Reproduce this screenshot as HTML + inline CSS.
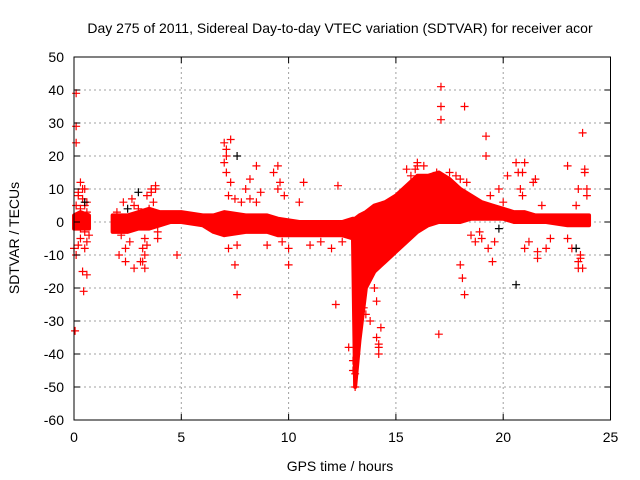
<!DOCTYPE html>
<html><head><meta charset="utf-8"><style>
body{margin:0;background:#fff}
svg{font-family:"Liberation Sans",sans-serif;display:block}
</style></head><body>
<svg id="c" width="640" height="480" viewBox="0 0 640 480">
<rect width="640" height="480" fill="#fff"/>
<text x="340" y="33" text-anchor="middle" font-size="14" fill="#000">Day 275 of 2011, Sidereal Day-to-day VTEC variation (SDTVAR) for receiver acor</text>
<text x="340" y="471" text-anchor="middle" font-size="14">GPS time / hours</text>
<text transform="translate(19,238) rotate(-90)" text-anchor="middle" font-size="14">SDTVAR / TECUs</text>
<g id="grid"></g>
<g id="band"></g>
<g id="pts"></g>
<g id="axes"></g>
</svg>
<script>
const xTicks=[0,5,10,15,20,25];
const yTicks=[50,40,30,20,10,0,-10,-20,-30,-40,-50,-60];
const bandTimes=[0.0,0.3,0.7,null,1.8,2.5,3.0,3.5,4.0,4.5,5.0,6.0,6.5,7.0,8.0,9.0,9.5,10.5,11.5,12.5,13.0,13.1,13.3,13.6,14.0,14.5,15.0,15.5,16.0,16.5,17.0,17.5,18.0,18.5,19.0,19.5,20.0,20.5,21.0,21.5,22.0,23.0,24.0];
const bandUpper=[2,3,2,null,2,2,3,4,3,3,3,2,2,3,2,2,1,0,0,0,1,1,2,3,5,6,8,11,14,14,15,13,10,8,6,5,4,3,3,2,2,2,2];
const bandLower=[-2,-2,-2,null,-3,-3,-2,-2,-1,0,0,-1,-3,-4,-3,-3,-4,-4,-4,-4,-5,-50,-36,-20,-15,-12,-9,-6,-3,-1,0,0,0,1,1,1,1,0,0,0,0,-1,-1];
const outT=[0.1,0.1,0.1,0.05,0.4,0.6,0.45,0.3,0.5,2.4,2.8,3.2,3.3,3.9,4.8,7.0,7.3,7.1,7.6,7.5,7.2,8.5,8.2,9.5,9.3,10.0,10.7,12.3,12.2,13.4,14.1,14.2,14.2,17.1,17.1,17.1,17.0,18.2,18.0,18.1,18.2,19.2,19.2,19.5,20.2,21.5,21.6,23.0,23.7,23.8,23.5,23.5,21.0,16.0,15.9,3.6,3.8,13.0,13.1,23.9,20.9,16.3,
0.1,0.2,0.3,0.4,0.5,0.6,0.2,0.3,0.4,0.5,0.6,0.7,0.1,0.2,0.3,0.5,0.6,0.0,
2.0,2.2,2.3,2.5,2.6,2.8,3.0,2.1,2.4,2.7,3.1,3.2,3.3,3.4,3.6,3.7,3.8,3.9,3.3,3.4,3.5,
7.0,7.1,7.1,7.2,7.3,7.5,7.6,7.8,8.0,8.2,8.5,8.7,9.0,9.5,9.6,9.7,9.8,10.0,10.5,11.0,11.5,12.0,12.5,
13.2,13.3,13.5,13.6,13.8,14.0,14.1,14.3,14.2,13.0,13.1,12.8,
15.5,15.7,16.0,16.2,16.5,16.7,16.9,17.5,17.8,18.0,18.3,18.5,18.7,18.9,19.0,19.3,19.4,19.6,19.8,20.0,
20.6,20.7,20.8,20.9,21.0,21.2,21.4,21.6,21.8,22.0,22.2,23.0,23.2,23.4,23.6,23.7,23.8,23.9,23.5,23.6];
const outV=[39,29,24,-33,-15,-16,-21,12,10,-12,-14,-12,-14,-5,-10,24,25,15,-22,-13,-8,17,13,17,15,-13,12,11,-25,-24,-35,-38,-40,41,35,31,-34,35,-13,-17,-22,26,20,-12,14,13,-11,17,27,16,-12,-14,18,18,16,9,10,-45,-50,10,15,17,
5,8,-5,7,-3,3,-7,4,10,-8,6,-4,-10,9,-2,5,-6,-8,
3,-4,6,-2,-6,5,4,-10,-8,7,-12,-8,-5,8,10,6,11,-3,-10,-7,4,
18,20,22,8,12,7,-7,6,10,7,6,9,-7,10,12,-6,8,-8,6,-7,-6,-8,-6,
-10,-14,-26,-28,-30,-20,-24,-32,-37,-42,-46,-38,
16,14,17,12,13,11,15,15,14,13,12,-4,-6,-3,-5,-8,8,-6,10,6,
18,15,10,8,-8,-6,12,-9,5,-8,-5,-5,-8,5,-10,-14,15,8,10,-11];
const blkT=[0.5,2.5,3.0,7.6,19.8,20.6,23.4];
const blkV=[6,4,9,20,-2,-19,-8];
const X0=74,X1=610.5,Y0=57,Y1=420;
const sx=t=>X0+(t-0)/(25-0)*(X1-X0);
const sy=v=>Y0+(50-v)/(50+60)*(Y1-Y0);
const NS="http://www.w3.org/2000/svg";
function mk(tag,attrs,parent){const e=document.createElementNS(NS,tag);for(const k in attrs)e.setAttribute(k,attrs[k]);parent.appendChild(e);return e;}
const grid=document.getElementById('grid'),axes=document.getElementById('axes'),band=document.getElementById('band'),pts=document.getElementById('pts');
xTicks.forEach(t=>{const x=sx(t);
 if(t>0&&t<25){const l=mk('line',{x1:x,x2:x,y1:Y0,y2:Y1,stroke:'#a0a0a0','stroke-dasharray':'2,3'},grid);}
 const tk=mk('path',{d:`M${x},${Y1}v-6M${x},${Y0}v6`,stroke:'#000'},axes);
 const tx=mk('text',{x:x,y:Y1+22,'text-anchor':'middle','font-size':14},axes);tx.textContent=t;});
yTicks.forEach(v=>{const y=sy(v);
 if(v<50&&v>-60){const l=mk('line',{x1:X0,x2:X1,y1:y,y2:y,stroke:'#a0a0a0','stroke-dasharray':'2,3'},grid);}
 const tk=mk('path',{d:`M${X0},${y}h6M${X1},${y}h-6`,stroke:'#000'},axes);
 const tx=mk('text',{x:X0-10,y:y+5,'text-anchor':'end','font-size':14},axes);tx.textContent=v;});
const fr=mk('rect',{x:X0,y:Y0,width:X1-X0,height:Y1-Y0,fill:'none',stroke:'#000'},axes);

let seg=[];
function flush(){if(seg.length<2){seg=[];return;}
 const up=seg.map(i=>sx(bandTimes[i])+','+sy(bandUpper[i]));
 const lo=seg.slice().reverse().map(i=>sx(bandTimes[i])+','+sy(bandLower[i]));
 const p=mk('polygon',{points:up.concat(lo).join(' '),fill:'#ff0000',stroke:'#ff0000','stroke-width':4,'stroke-linejoin':'round'},band);
 seg=[];}
bandTimes.forEach((t,i)=>{if(t===null)flush();else seg.push(i);});flush();
function plus(t,v,col){const x=sx(t),y=sy(v);
 const p=mk('path',{d:`M${x-4},${y}h8M${x},${y-4}v8`,stroke:col,'stroke-width':1.2},pts);
 }
outT.forEach((t,i)=>plus(t,outV[i],'#ff0000'));
blkT.forEach((t,i)=>plus(t,blkV[i],'#000'));
</script>
</body></html>
